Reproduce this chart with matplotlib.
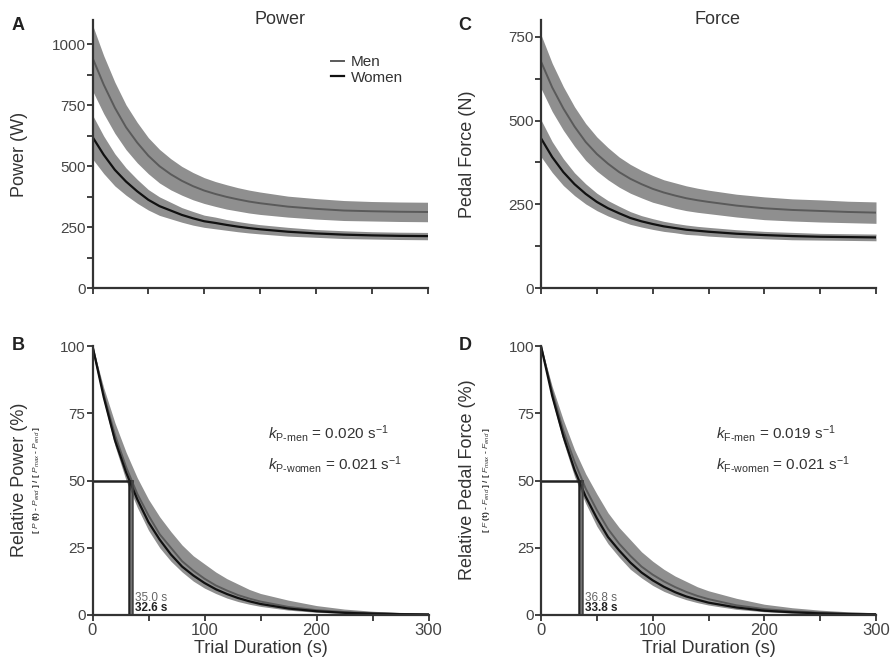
import matplotlib
matplotlib.use("Agg")
import matplotlib.pyplot as plt
from matplotlib.ticker import MultipleLocator

plt.rcParams["font.family"] = ["Liberation Sans", "DejaVu Sans"]
plt.rcParams["mathtext.fontset"] = "custom"
plt.rcParams["mathtext.rm"] = "Liberation Sans"
plt.rcParams["mathtext.it"] = "Liberation Sans:italic"

# trial duration samples (s)
t = [0, 10, 20, 30, 40, 50, 60, 70, 80, 90, 100, 110, 120, 130, 140, 150,
     175, 200, 225, 250, 275, 300]

# A - power (W)
power_men = [945, 835, 740, 660, 597, 543, 500, 467, 440, 418, 400, 386, 374,
             364, 355, 348, 334, 325, 318, 315, 313, 312]
power_men_hi = [1080, 954, 845, 752, 680, 617, 569, 531, 499, 474, 453, 437,
                424, 412, 402, 394, 377, 367, 359, 355, 353, 352]
power_men_lo = [810, 716, 635, 568, 514, 469, 431, 403, 381, 362, 347, 335,
                324, 316, 308, 302, 291, 283, 277, 275, 273, 272]
power_women = [620, 547, 485, 437, 397, 362, 336, 318, 300, 286, 274, 267, 259,
               252, 246, 241, 231, 224, 219, 216, 214, 213]
power_women_hw = [90, 77, 66, 56, 49, 42, 38, 34, 30, 28, 25, 24, 22, 21, 20,
                  19, 18, 16, 16, 15, 15, 15]

# C - pedal force (N)
force_men = [676, 599, 536, 482, 436, 400, 371, 346, 326, 310, 296, 285, 276,
             268, 262, 257, 246, 238, 233, 230, 227, 225]
force_men_hw = [80, 72, 65, 59, 55, 51, 48, 45, 43, 41, 40, 38, 38, 37, 36, 35,
                34, 34, 33, 33, 32, 32]
force_women = [447, 391, 346, 310, 281, 257, 238, 223, 209, 199, 191, 184, 179,
               174, 171, 168, 162, 158, 155, 153, 152, 151]
force_women_hw = [55, 46, 40, 34, 30, 26, 23, 21, 19, 17, 16, 15, 14, 14, 13,
                  13, 12, 11, 11, 10, 10, 10]

# B - relative power (%)
relp_men = [100, 82, 67, 55, 45, 37, 30, 25, 20, 16.5, 13.5, 11, 9.1, 7.4, 6.1,
            5.0, 3.0, 1.8, 1.1, 0.7, 0.4, 0.25]
relp_women = [100, 81, 65, 53, 43, 34.5, 28, 22.5, 18, 14.7, 11.9, 9.6, 7.8,
              6.3, 5.1, 4.1, 2.4, 1.4, 0.8, 0.5, 0.3, 0.17]
relp_hi = [100, 84.5, 71.5, 60.5, 51, 43, 36.5, 31, 26, 22, 19, 16, 13.5, 11.5,
           9.5, 8, 5.5, 3.5, 2.2, 1.4, 0.9, 0.6]
relp_lo = [100, 79.5, 63, 50, 40, 31.5, 25, 20, 16, 12.6, 10, 8, 6.3, 5, 4,
           3.2, 1.8, 1.0, 0.6, 0.3, 0.2, 0.1]

# D - relative pedal force (%)
relf_men = [100, 83, 68.5, 57, 47, 39, 32, 26.5, 22, 18, 15, 12.5, 10.4, 8.6,
            7.1, 5.9, 3.6, 2.2, 1.4, 0.9, 0.5, 0.35]
relf_women = [100, 81.5, 66.5, 54, 44, 36, 29, 24, 19.5, 15.8, 12.9, 10.5,
              8.5, 6.9, 5.7, 4.6, 2.8, 1.6, 1.0, 0.6, 0.35, 0.2]
relf_hi = [100, 85, 72.5, 61.5, 52.5, 45, 38, 32.5, 28, 23.5, 20, 17, 14.5,
           12.5, 10.5, 9, 6.2, 4, 2.7, 1.8, 1.2, 0.8]
relf_lo = [100, 80, 64.5, 51.5, 41.5, 33, 26.5, 21.5, 17, 13.8, 11, 8.8, 7.1,
           5.7, 4.6, 3.7, 2.1, 1.2, 0.7, 0.4, 0.2, 0.1]

half_p = [35.0, 32.6]
half_f = [36.8, 33.8]
k_p = ["0.020", "0.021"]
k_f = ["0.019", "0.021"]

band = "#8f8f8f"
men_c = "#5a5a5a"
women_c = "#111111"
axis_c = "#333333"
tick_c = "#444444"

fig = plt.figure(figsize=(8.9, 6.64), dpi=100)
W, H = 890, 664


def rect(x0, x1, ytop, ybot):
    return [x0 / W, 1 - ybot / H, (x1 - x0) / W, (ybot - ytop) / H]


axA = fig.add_axes(rect(92.5, 427.5, 20, 288))
axC = fig.add_axes(rect(541, 876, 20, 288))
axB = fig.add_axes(rect(92.5, 428.5, 346, 615))
axD = fig.add_axes(rect(541, 876, 346, 615))

for ax in [axA, axB, axC, axD]:
    for s in ["top", "right"]:
        ax.spines[s].set_visible(False)
    for s in ["left", "bottom"]:
        ax.spines[s].set_color(axis_c)
        ax.spines[s].set_linewidth(1.6)
    ax.set_xlim(0, 300)
    ax.tick_params(which="both", direction="out", color=axis_c, width=1.3,
                   labelcolor=tick_c, labelsize=11, pad=1)
    ax.tick_params(which="major", length=4)
    ax.tick_params(which="minor", length=4)

# top row
for ax in [axA, axC]:
    ax.xaxis.set_major_locator(MultipleLocator(50))
    ax.set_xticklabels([])

axA.set_ylim(0, 1100)
axA.yaxis.set_major_locator(MultipleLocator(250))
axA.yaxis.set_minor_locator(MultipleLocator(125))
axA.fill_between(t, power_men_lo, power_men_hi, color=band, lw=0)
axA.fill_between(t, [m - h for m, h in zip(power_women, power_women_hw)],
                 [m + h for m, h in zip(power_women, power_women_hw)],
                 color=band, lw=0)
axA.plot(t, power_men, color=men_c, lw=1.4, label="Men")
axA.plot(t, power_women, color=women_c, lw=1.6, label="Women")
axA.legend(loc="upper left", bbox_to_anchor=(0.67, 0.92), frameon=False,
           handlelength=0.9, handletextpad=0.4, labelspacing=0.1,
           fontsize=11, labelcolor="#333333")

axC.set_ylim(0, 800)
axC.yaxis.set_major_locator(MultipleLocator(250))
axC.yaxis.set_minor_locator(MultipleLocator(125))
axC.fill_between(t, [m - h for m, h in zip(force_men, force_men_hw)],
                 [m + h for m, h in zip(force_men, force_men_hw)],
                 color=band, lw=0)
axC.fill_between(t, [m - h for m, h in zip(force_women, force_women_hw)],
                 [m + h for m, h in zip(force_women, force_women_hw)],
                 color=band, lw=0)
axC.plot(t, force_men, color=men_c, lw=1.4)
axC.plot(t, force_women, color=women_c, lw=1.6)

# bottom row
panels = [
    (axB, relp_men, relp_women, relp_lo, relp_hi, half_p, k_p, "P"),
    (axD, relf_men, relf_women, relf_lo, relf_hi, half_f, k_f, "F"),
]
for ax, rm, rw, lo, hi, half, kv, sym in panels:
    ax.set_ylim(0, 100)
    ax.yaxis.set_major_locator(MultipleLocator(25))
    ax.xaxis.set_major_locator(MultipleLocator(100))
    ax.xaxis.set_minor_locator(MultipleLocator(50))
    ax.tick_params(axis="x", labelsize=12, pad=2)
    ax.fill_between(t, lo, hi, color=band, lw=0)
    ax.plot(t, rm, color=men_c, lw=1.4)
    ax.plot(t, rw, color=women_c, lw=1.6)
    ax.plot([0, half[0]], [50, 50], color="#222222", lw=1.8)
    ax.plot([half[0], half[0]], [0, 50], color="#444444", lw=1.8)
    ax.plot([half[1], half[1]], [0, 50], color="#222222", lw=1.8)
    ax.text(half[0] + 3, 6.5, f"{half[0]:.1f} s", fontsize=8.5,
            color="#666666", va="center")
    ax.text(half[0] + 3, 2.5, f"{half[1]:.1f} s", fontsize=8.5,
            color="#222222", fontweight="bold", va="center")
    ax.text(157, 67.5, rf"$k_{{\mathrm{{{sym}}}\text{{-men}}}}$ = {kv[0]} s$^{{-1}}$",
            fontsize=11, color="#333333", va="center")
    ax.text(157, 56, rf"$k_{{\mathrm{{{sym}}}\text{{-women}}}}$ = {kv[1]} s$^{{-1}}$",
            fontsize=11, color="#333333", va="center")
    ax.set_xlabel("Trial Duration (s)", fontsize=13, color="#333333",
                  labelpad=1)

# titles, letters, y labels
fig.text(280 / W, 1 - 20 / H, "Power", fontsize=13, color="#333333",
         ha="center", va="center")
fig.text(718 / W, 1 - 20 / H, "Force", fontsize=13, color="#333333",
         ha="center", va="center")
for lab, x, y in [("A", 18, 25), ("C", 465, 25), ("B", 18, 346),
                  ("D", 465, 346)]:
    fig.text(x / W, 1 - y / H, lab, fontsize=13, fontweight="bold",
             color="#222222", ha="center", va="center")

ylab = [("Power (W)", 20, 154), ("Pedal Force (N)", 467, 154),
        ("Relative Power (%)", 20, 480), ("Relative Pedal Force (%)", 467, 480)]
for s, x, y in ylab:
    fig.text(x / W, 1 - y / H, s, fontsize=13, color="#333333", rotation=90,
             ha="center", va="center")

fig.text(37 / W, 1 - 480 / H,
         r"[ $P$ (t) - $P_{end}$ ] / [ $P_{max}$ - $P_{end}$ ]",
         fontsize=6, fontweight="bold", color="#333333", rotation=90,
         ha="center", va="center")
fig.text(487 / W, 1 - 480 / H,
         r"[ $F$ (t) - $F_{end}$ ] / [ $F_{max}$ - $F_{end}$ ]",
         fontsize=6, fontweight="bold", color="#333333", rotation=90,
         ha="center", va="center")

plt.savefig("out.png", dpi=100)
